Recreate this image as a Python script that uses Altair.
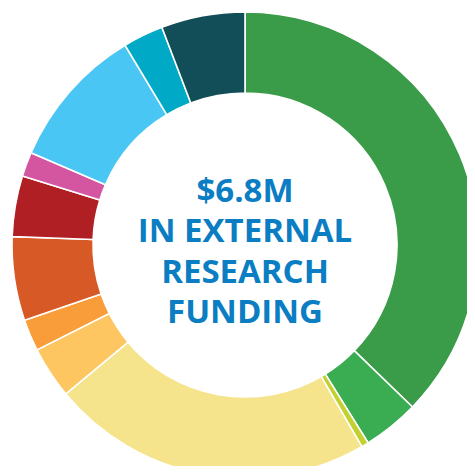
import altair as alt
import pandas as pd

categories = ["A", "B", "C", "D", "E", "F", "G", "H", "I", "J", "K", "L"]
values = [37.2, 3.9, 0.5, 22.3, 3.6, 2.2, 5.8, 4.2, 1.7, 9.9, 2.8, 5.8]
colors = ["#3A9B48", "#3AAD52", "#C2D12F", "#F6E48C", "#FDC661", "#F99D3A",
          "#D75A26", "#B01F24", "#D456A0", "#4AC6F4", "#00A9C6", "#124E57"]
lines = ["$6.8M", "IN EXTERNAL", "RESEARCH", "FUNDING"]

df = pd.DataFrame({"cat": categories, "val": values, "idx": list(range(len(categories)))})
tf = pd.DataFrame({"line": lines, "row": list(range(len(lines)))})

W, H = 459, 458
cx, cy = 237, 237

donut = alt.Chart(df).mark_arc(radius=233, radius2=152, stroke="white", strokeWidth=1.6).encode(
    theta=alt.Theta("val:Q", stack=True),
    order=alt.Order("idx:Q"),
    color=alt.Color("cat:N", scale=alt.Scale(domain=categories, range=colors), legend=None),
    x=alt.value(cx),
    y=alt.value(cy),
)

text = alt.Chart(tf).mark_text(
    font="Open Sans", fontWeight="bold", fontSize=33, color="#0A7DC3",
    align="center", baseline="alphabetic",
).encode(
    text="line:N",
    x=alt.value(cx),
    y=alt.Y("row:Q", scale=alt.Scale(domain=[0, 3], range=[193.7, 315.3]), axis=None),
)

chart = alt.layer(donut, text).properties(
    width=W, height=H, padding=0, autosize=alt.AutoSizeParams(type="none")
).configure_view(stroke=None)

chart.save("out.html", embed_options={"renderer": "svg", "actions": False})
